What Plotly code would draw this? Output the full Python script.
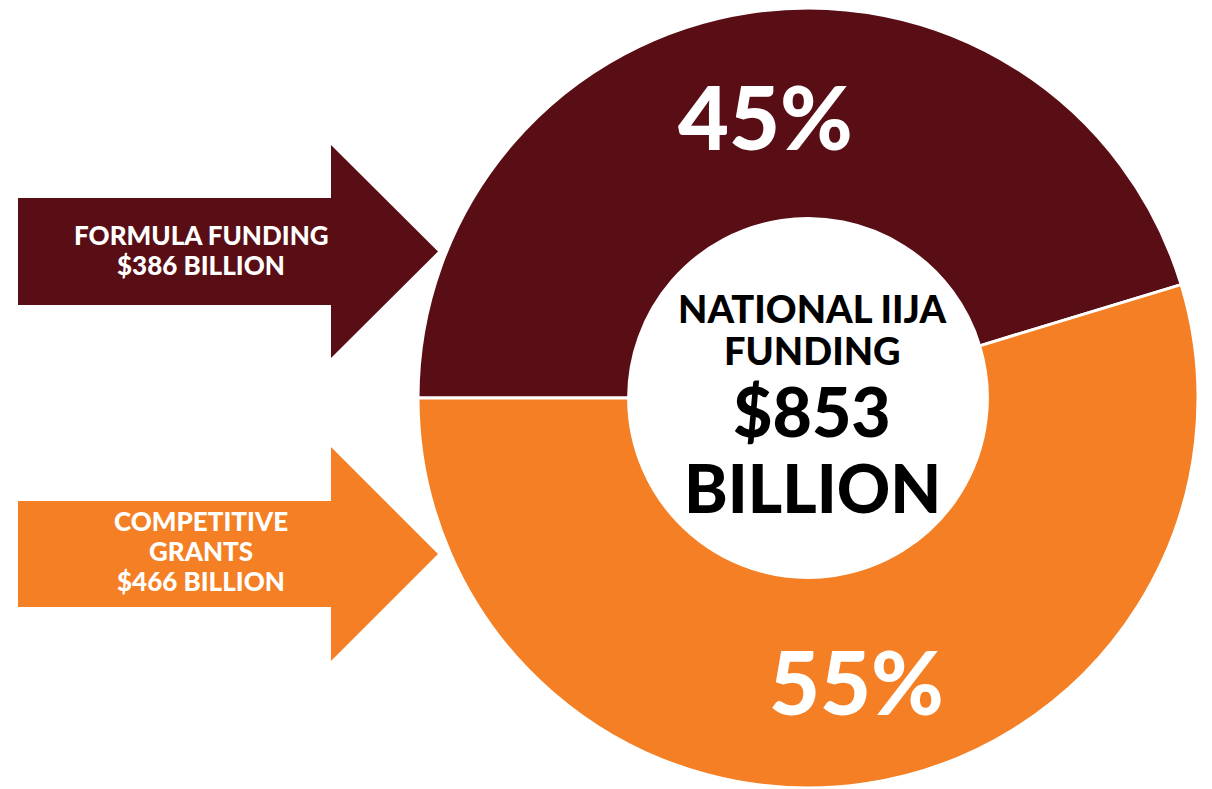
import plotly.graph_objects as go

# ---- data ----
categories = ["Formula Funding", "Competitive Grants"]
values = [386, 466]  # $ billion
colors = ["#590E15", "#F47F24"]
arrow_label_lines = [["FORMULA FUNDING", "$386 BILLION"],
                     ["COMPETITIVE", "GRANTS", "$466 BILLION"]]
center_title_lines = ["NATIONAL IIJA", "FUNDING"]
center_total_lines = ["$853", "BILLION"]

W, H = 1212, 789
total = sum(values)
pcts = [f"{round(v / total * 100)}%" for v in values]

FONT = "Lato"

fig = go.Figure()

fig.add_trace(go.Pie(
    labels=categories,
    values=values,
    hole=0.46,
    sort=False,
    direction="clockwise",
    rotation=270,
    marker=dict(colors=colors, line=dict(color="white", width=3)),
    textinfo="none",
    hoverinfo="label+value+percent",
    showlegend=False,
    domain=dict(x=[(808 - 390) / W, (808 + 390) / W], y=[1 - 788 / H, 1 - 8 / H]),
))

# hidden pixel-space axes for arrows and text
fig.update_xaxes(range=[0, W], visible=False, fixedrange=True)
fig.update_yaxes(range=[H, 0], visible=False, fixedrange=True)


def arrow_path(x0, y_top, y_bot, x_shaft, head_top, head_bot, x_tip):
    y_mid = (head_top + head_bot) / 2
    return (f"M {x0},{y_top} L {x_shaft},{y_top} L {x_shaft},{head_top} "
            f"L {x_tip},{y_mid} L {x_shaft},{head_bot} L {x_shaft},{y_bot} "
            f"L {x0},{y_bot} Z")


arrow_geom = [
    (18, 198, 305, 331, 145, 358, 438),
    (18, 501, 607, 331, 447, 661, 438),
]
for geom, col in zip(arrow_geom, colors):
    fig.add_shape(type="path", path=arrow_path(*geom), xref="x", yref="y",
                  fillcolor=col, line=dict(width=0), layer="above")


def add_line(x, y, txt, size, color):
    fig.add_annotation(x=x, y=y, xref="x", yref="y", text=txt, showarrow=False,
                       xanchor="center", yanchor="middle",
                       font=dict(family=FONT, size=size, color=color, weight=900))


# arrow labels (one annotation per line for tight leading)
label_y = [[235, 265], [521, 551, 581]]
for lines, ys in zip(arrow_label_lines, label_y):
    for txt, y in zip(lines, ys):
        add_line(201, y, txt, 26, "white")

# percentage labels
pct_pos = [(765, 116), (856, 681)]
for (px, py), txt in zip(pct_pos, pcts):
    add_line(px, py, txt, 88, "white")

# center text
for txt, y in zip(center_title_lines, [308, 350]):
    add_line(812, y, txt, 38, "black")
for txt, y, s in zip(center_total_lines, [410, 487], [68, 66]):
    add_line(812, y, txt, s, "black")

fig.update_layout(
    width=W, height=H,
    margin=dict(l=0, r=0, t=0, b=0),
    paper_bgcolor="white",
    plot_bgcolor="white",
    showlegend=False,
)

fig.write_html("out.html", config={"displayModeBar": False},
               post_script="document.body.style.margin='0';document.body.style.overflow='hidden';")
